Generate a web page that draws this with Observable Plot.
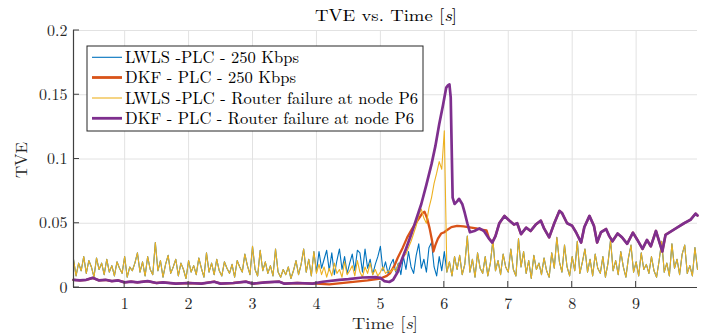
<!DOCTYPE html>
<html><head><meta charset="utf-8">
<script src="https://cdn.jsdelivr.net/npm/d3@7"></script>
<script src="https://cdn.jsdelivr.net/npm/@observablehq/plot@0.6"></script>
<style>body{margin:0;background:#fff} svg{display:block} svg text{font-family:"Latin Modern Roman","Liberation Serif",serif}</style>
</head><body><div id="chart"></div>
<script>
// ---------- data ----------
const seriesNames = [
  "LWLS -PLC - 250 Kbps",
  "DKF - PLC - 250 Kbps",
  "LWLS -PLC - Router failure at node P6",
  "DKF - PLC - Router failure at node P6"
];
const seriesColors = ["#0072BD", "#D95319", "#EDB120", "#7E2F8E"];
const xTicks = [1, 2, 3, 4, 5, 6, 7, 8, 9];
const yTicks = [0, 0.05, 0.1, 0.15, 0.2];
const yTickLabels = ["0", "0.05", "0.1", "0.15", "0.2"];

// LWLS - router failure (sampled every 0.04 s from 0.20 s)
const lwlsStart = 0.2, lwlsStep = 0.04;
const lwlsRouter = [
  0.022,0.009,0.019,0.013,0.024,0.011,0.021,0.016,0.008,0.023,0.014,0.019,0.010,0.022,0.012,0.017,0.009,0.020,0.015,0.011,0.024,0.008,0.016,0.013,0.019,
  0.027,0.012,0.020,0.009,0.024,0.014,0.010,0.035,0.013,0.021,0.008,0.018,0.025,0.011,0.016,0.022,0.009,0.019,0.014,0.007,0.021,0.012,0.017,0.010,0.023,
  0.015,0.008,0.027,0.012,0.019,0.010,0.022,0.013,0.009,0.020,0.015,0.011,0.018,0.008,0.021,0.016,0.012,0.026,0.017,0.010,0.032,0.014,0.009,0.029,0.013,
  0.020,0.011,0.017,0.009,0.030,0.012,0.008,0.014,0.010,0.016,0.007,0.013,0.021,0.010,0.018,0.030,0.012,0.022,0.009,0.028,0.011,0.018,0.010,0.016,0.008,
  0.015,0.009,0.019,0.011,0.014,0.008,0.020,0.010,0.013,0.017,0.009,0.021,0.012,0.008,0.016,0.011,0.019,0.010,0.014,0.009,0.012,0.016,0.011,0.013,0.012,
  0.015,0.013,0.018,0.020,0.024,0.026,0.031,0.036,0.042,0.048,0.056,0.061,0.054,0.050,0.062,0.070,0.081,0.089,0.098,0.092,0.122,0.012,0.020,0.009,0.024,
  0.014,0.025,0.010,0.018,0.040,0.012,0.022,0.008,0.027,0.015,0.011,0.024,0.009,0.019,0.037,0.013,0.021,0.010,0.026,0.016,0.012,0.030,0.014,0.009,0.038,
  0.016,0.028,0.011,0.021,0.007,0.025,0.014,0.019,0.010,0.023,0.013,0.008,0.027,0.015,0.039,0.020,0.012,0.033,0.016,0.009,0.024,0.013,0.036,0.011,0.020,
  0.030,0.012,0.022,0.009,0.026,0.015,0.011,0.024,0.008,0.019,0.037,0.013,0.021,0.010,0.028,0.016,0.008,0.023,0.033,0.012,0.020,0.009,0.027,0.014,0.018,
  0.011,0.024,0.013,0.008,0.021,0.036,0.012,0.019,0.009,0.034,0.015,0.022,0.010,0.026,0.033,0.011,0.017,0.009,0.031,0.014
];
// LWLS - 250 Kbps: where it departs from the router-failure trace (4.00 s .. 6.20 s)
const lwls250WindowStart = 4.0;
const lwls250Window = [
  0.012,0.028,0.015,0.022,0.029,0.013,0.027,0.010,0.021,0.030,0.014,0.024,0.011,0.019,0.026,0.013,0.029,0.027,0.012,0.030,0.015,0.022,0.010,0.018,0.024,
  0.032,0.013,0.020,0.011,0.018,0.022,0.012,0.019,0.010,0.024,0.014,0.028,0.016,0.011,0.025,0.034,0.015,0.022,0.012,0.031,0.035,0.016,0.009,0.024,0.013,
  0.028,0.012,0.020,0.009,0.024,0.014
];

// DKF - router failure
const dkfRouterT = [0.2,0.3,0.4,0.5,0.6,0.7,0.8,0.9,1.0,1.1,1.2,1.36,1.5,1.6,1.8,2.0,2.2,2.4,2.5,2.7,2.9,3.0,3.2,3.42,3.5,3.7,3.94,4.1,4.36,4.5,4.72,4.94,5.0,5.06,5.14,5.2,5.27,5.33,5.4,5.48,5.56,5.64,5.72,5.8,5.86,5.92,5.98,6.03,6.06,6.08,6.1,6.13,6.16,6.2,6.23,6.28,6.32,6.36,6.4,6.47,6.55,6.62,6.7,6.75,6.8,6.86,6.94,7.02,7.09,7.14,7.2,7.28,7.35,7.43,7.51,7.56,7.64,7.72,7.8,7.84,7.92,8.0,8.06,8.14,8.19,8.27,8.34,8.39,8.45,8.53,8.58,8.63,8.71,8.78,8.86,8.95,9.02,9.1,9.17,9.23,9.31,9.36,9.41,9.46,9.54,9.64,9.75,9.85,9.93,9.96];
const dkfRouterV = [0.006,0.0055,0.006,0.0075,0.0055,0.006,0.005,0.0055,0.004,0.0045,0.004,0.005,0.0035,0.004,0.003,0.0035,0.003,0.0045,0.003,0.0035,0.0045,0.003,0.004,0.0045,0.003,0.0035,0.003,0.0045,0.006,0.0065,0.0078,0.008,0.0075,0.005,0.0043,0.006,0.012,0.021,0.03,0.041,0.053,0.065,0.08,0.096,0.11,0.127,0.142,0.1556,0.1575,0.158,0.148,0.070,0.065,0.067,0.069,0.065,0.058,0.05,0.043,0.044,0.046,0.044,0.038,0.035,0.040,0.050,0.0557,0.052,0.049,0.050,0.0415,0.0466,0.044,0.049,0.052,0.046,0.039,0.050,0.0596,0.058,0.050,0.048,0.043,0.035,0.047,0.0557,0.048,0.035,0.043,0.0455,0.040,0.036,0.042,0.039,0.034,0.0427,0.037,0.030,0.037,0.032,0.044,0.036,0.028,0.041,0.0435,0.0466,0.050,0.0527,0.0575,0.056];

// DKF - 250 Kbps: where it departs from the router-failure trace
const dkf250T = [4.0,4.2,4.5,4.8,5.0,5.1,5.15,5.22,5.27,5.35,5.42,5.5,5.58,5.66,5.69,5.73,5.77,5.81,5.83,5.86,5.9,5.95,6.0,6.05,6.11,6.2,6.3,6.42,6.5,6.58,6.66];
const dkf250V = [0.003,0.0025,0.004,0.0055,0.007,0.009,0.011,0.017,0.023,0.031,0.039,0.046,0.052,0.058,0.059,0.054,0.046,0.036,0.028,0.033,0.038,0.042,0.043,0.045,0.047,0.048,0.0475,0.0466,0.046,0.045,0.0445];

// ---------- build tables ----------
const yellowRows = lwlsRouter.map((v, i) => ({t: +(lwlsStart + i * lwlsStep).toFixed(2), v}));
const blueRows = yellowRows.map(d => {
  const j = Math.round((d.t - lwls250WindowStart) / lwlsStep);
  return {t: d.t, v: (j >= 0 && j < lwls250Window.length) ? lwls250Window[j] : d.v};
});
const purpleRows = dkfRouterT.map((t, i) => ({t, v: dkfRouterV[i]}));
const redRows = [
  ...purpleRows.filter(d => d.t < dkf250T[0]),
  ...dkf250T.map((t, i) => ({t, v: dkf250V[i]})),
  ...purpleRows.filter(d => d.t > dkf250T[dkf250T.length - 1])
];

const axisColor = "#262626";
const font = "Latin Modern Roman, Liberation Serif, serif";

const chart = Plot.plot({
  width: 720, height: 335,
  marginLeft: 73, marginRight: 23, marginTop: 30, marginBottom: 48,
  x: {domain: [0.2, 9.96]},
  y: {domain: [0, 0.2]},
  style: {fontFamily: font, fontSize: "16px", color: axisColor, background: "white"},
  marks: [
    Plot.gridX(xTicks, {stroke: "#e2e2e2", strokeOpacity: 1}),
    Plot.gridY(yTicks.slice(1), {stroke: "#e2e2e2", strokeOpacity: 1}),
    Plot.axisX(xTicks, {tickSize: 0, tickPadding: 10, label: null, fontSize: 16}),
    Plot.axisY(yTicks, {tickSize: 0, tickPadding: 6, label: null, fontSize: 16,
      tickFormat: d => yTickLabels[yTicks.indexOf(d)]}),
    Plot.line(blueRows, {x: "t", y: "v", stroke: seriesColors[0], strokeWidth: 1.1}),
    Plot.line(redRows, {x: "t", y: "v", stroke: seriesColors[1], strokeWidth: 2.3}),
    Plot.line(yellowRows, {x: "t", y: "v", stroke: seriesColors[2], strokeWidth: 1.1}),
    Plot.line(purpleRows, {x: "t", y: "v", stroke: seriesColors[3], strokeWidth: 2.7}),
    Plot.ruleX([0.2], {stroke: "#404040", strokeWidth: 1.2}),
    Plot.ruleY([0], {stroke: "#404040", strokeWidth: 1.2})
  ]
});

const svg = d3.select(chart);
const sx = chart.scale("x"), sy = chart.scale("y");
const x0 = sx.apply(0.2), y0 = sy.apply(0);
// inward ticks
const tg = svg.append("g").attr("stroke", "#404040").attr("stroke-width", 1);
xTicks.forEach(t => tg.append("line").attr("x1", sx.apply(t)).attr("x2", sx.apply(t)).attr("y1", y0).attr("y2", y0 - 6));
yTicks.forEach(v => tg.append("line").attr("x1", x0).attr("x2", x0 + 6).attr("y1", sy.apply(v)).attr("y2", sy.apply(v)));

// title
const title = svg.append("text").attr("x", 386).attr("y", 21).attr("text-anchor", "middle")
  .attr("font-size", 16.5).attr("fill", "#000")
  .attr("textLength", 142).attr("lengthAdjust", "spacingAndGlyphs");
title.append("tspan").text("TVE vs. Time [");
title.append("tspan").attr("font-style", "italic").text("s");
title.append("tspan").text("]");

// x label
const xl = svg.append("text").attr("x", 385).attr("y", 329).attr("text-anchor", "middle")
  .attr("font-size", 16.5).attr("fill", axisColor)
  .attr("textLength", 66).attr("lengthAdjust", "spacingAndGlyphs");
xl.append("tspan").text("Time [");
xl.append("tspan").attr("font-style", "italic").text("s");
xl.append("tspan").text("]");

// y label
svg.append("text").attr("transform", "translate(27,160) rotate(-90)").attr("text-anchor", "middle")
  .attr("font-size", 16.5).attr("fill", axisColor)
  .attr("textLength", 36).attr("lengthAdjust", "spacingAndGlyphs").text("TVE");

// legend
const lg = svg.append("g");
lg.append("rect").attr("x", 87).attr("y", 46).attr("width", 336).attr("height", 85)
  .attr("fill", "white").attr("stroke", "#262626").attr("stroke-width", 1);
const rowsY = [57.3, 77.5, 98, 118.3];
const legW = [1.1, 2.8, 1.1, 2.8];
const textW = [174, 171, 293, 289];
seriesNames.forEach((name, i) => {
  lg.append("line").attr("x1", 92).attr("x2", 122).attr("y1", rowsY[i]).attr("y2", rowsY[i])
    .attr("stroke", seriesColors[i]).attr("stroke-width", legW[i]);
  lg.append("text").attr("x", 125).attr("y", rowsY[i] + 5.5).attr("text-anchor", "start")
    .attr("font-size", 16.5).attr("fill", "#000")
    .attr("textLength", textW[i]).attr("lengthAdjust", "spacingAndGlyphs").text(name);
});

document.getElementById("chart").appendChild(chart);
</script>
</body></html>
